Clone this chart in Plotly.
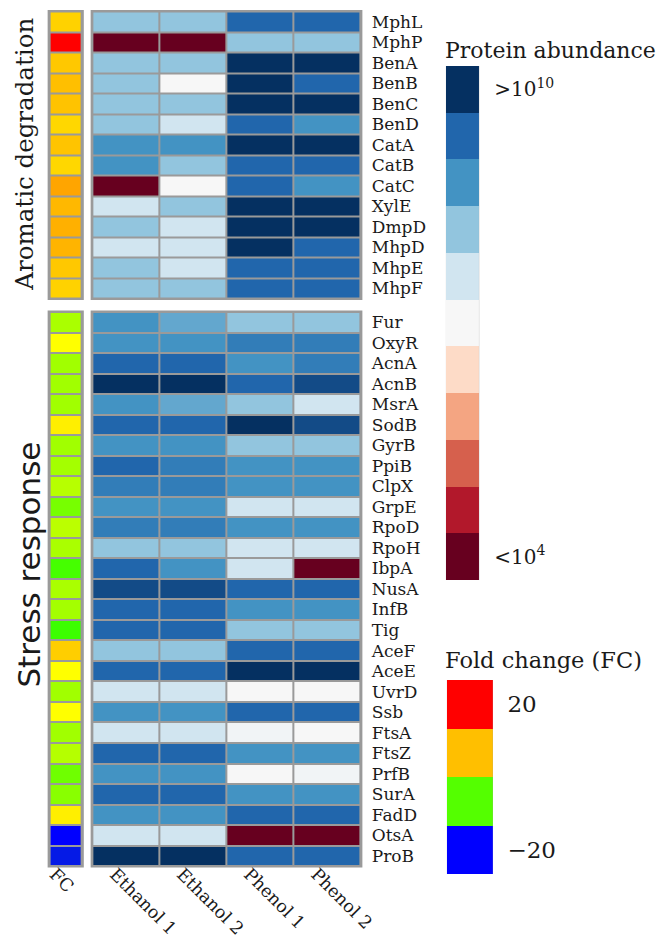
import plotly.graph_objects as go

W, H = 666, 949

# ---------------- data ----------------
genes_top = ["MphL", "MphP", "BenA", "BenB", "BenC", "BenD", "CatA", "CatB",
             "CatC", "XylE", "DmpD", "MhpD", "MhpE", "MhpF"]
genes_bottom = ["Fur", "OxyR", "AcnA", "AcnB", "MsrA", "SodB", "GyrB", "PpiB",
                "ClpX", "GrpE", "RpoD", "RpoH", "IbpA", "NusA", "InfB", "Tig",
                "AceF", "AceE", "UvrD", "Ssb", "FtsA", "FtsZ", "PrfB", "SurA",
                "FadD", "OtsA", "ProB"]
conditions = ["Ethanol 1", "Ethanol 2", "Phenol 1", "Phenol 2"]

# fold change (FC)
fc_top = [11.3, 20.0, 12.0, 13.0, 12.6, 10.9, 12.5, 10.9, 16.0, 13.8, 14.7,
          14.3, 12.0, 11.3]
fc_bottom = [4.0, 8.0, 3.7, 3.7, 3.7, 9.2, 3.7, 3.8, 4.6, 2.3, 4.8, 4.0, 0.6,
             4.0, 3.8, 0.3, 11.6, 8.0, 3.7, 8.0, 3.7, 4.5, 2.0, 2.9, 9.2,
             -20.0, -18.0]

# protein abundance (log10)
eth1_top = [8.2, 4.0, 8.2, 8.2, 8.2, 8.2, 8.8, 8.8, 4.0, 7.6, 8.2, 7.6, 8.2, 8.2]
eth2_top = [8.2, 4.0, 8.2, 7.0, 8.2, 7.6, 8.8, 8.2, 7.0, 8.2, 7.6, 7.6, 7.6, 8.2]
phe1_top = [9.4, 8.2, 10.0, 10.0, 10.0, 9.4, 10.0, 9.4, 9.4, 10.0, 10.0, 10.0, 9.4, 9.4]
phe2_top = [9.4, 8.2, 10.0, 9.4, 10.0, 8.8, 10.0, 9.4, 8.8, 10.0, 10.0, 9.4, 9.4, 9.4]

eth1_bottom = [8.8, 8.8, 9.4, 10.0, 8.8, 9.4, 8.8, 9.4, 9.1, 8.8, 9.1, 8.2, 9.4,
               9.7, 9.4, 9.4, 8.2, 9.4, 7.6, 8.8, 7.6, 9.4, 8.8, 9.4, 8.8, 7.6, 10.0]
eth2_bottom = [8.56, 8.8, 9.4, 10.0, 8.56, 9.4, 8.8, 9.1, 9.1, 8.8, 9.1, 8.2, 8.8,
               9.7, 9.4, 9.4, 8.2, 9.4, 7.6, 8.8, 7.6, 9.4, 8.8, 9.4, 8.8, 7.6, 10.0]
phe1_bottom = [8.2, 9.1, 8.8, 9.4, 8.2, 10.0, 8.2, 8.8, 8.8, 7.6, 8.8, 7.6, 7.6,
               9.4, 8.8, 8.2, 9.4, 10.0, 7.0, 9.4, 7.1, 8.8, 7.0, 8.8, 9.4, 4.0, 9.4]
phe2_bottom = [8.2, 9.1, 9.1, 9.7, 7.6, 9.7, 8.2, 8.8, 8.8, 7.6, 8.8, 7.6, 4.0,
               9.4, 8.8, 8.2, 9.4, 10.0, 7.0, 9.4, 7.0, 8.8, 7.1, 8.8, 9.4, 4.0, 9.4]

# legends
abund_legend_values = [10.0, 9.4, 8.8, 8.2, 7.6, 7.0, 6.4, 5.8, 5.2, 4.6, 4.0]
abund_legend_labels = [">10<sup>10</sup>", "<10<sup>4</sup>"]
fc_legend_values = [20.0, 13.0, 1.1, -20.0]
fc_legend_labels = ["20", "\u221220"]

# ---------------- styles ----------------
abund_scale = [[0.0, "#67001f"], [0.1, "#b2182b"], [0.2, "#d6604d"], [0.3, "#f4a582"],
               [0.4, "#fddbc7"], [0.5, "#f7f7f7"], [0.6, "#d1e5f0"], [0.7, "#92c5de"],
               [0.8, "#4393c3"], [0.9, "#2166ac"], [1.0, "#053061"]]
fc_scale = [[0.0, "#0000ff"], [0.5, "#33ff00"], [0.6, "#aaff00"], [0.7, "#ffff00"],
            [0.8, "#ffc800"], [0.9, "#ffa500"], [1.0, "#ff0000"]]
FONT = "DejaVu Serif"
SANS = "DejaVu Sans"
TXT = "#1a1a1a"
GRID = "#9a9a9a"


def px_x(a, b):
    return [a / W, b / W]


def px_y(top, bottom):
    return [1 - bottom / H, 1 - top / H]


def rows(*cols):
    return [list(r) for r in zip(*cols)]


fig = go.Figure()

# FC top
fig.add_trace(go.Heatmap(z=[[v] for v in fc_top], x=[0], y=list(range(len(fc_top))),
                         colorscale=fc_scale, zmin=-20, zmax=20, showscale=False,
                         xgap=2, ygap=2, xaxis="x", yaxis="y", hoverinfo="skip"))
# main top
fig.add_trace(go.Heatmap(z=rows(eth1_top, eth2_top, phe1_top, phe2_top),
                         x=list(range(4)), y=list(range(len(genes_top))),
                         colorscale=abund_scale, zmin=4, zmax=10, showscale=False,
                         xgap=2, ygap=2, xaxis="x2", yaxis="y2", hoverinfo="skip"))
# FC bottom
fig.add_trace(go.Heatmap(z=[[v] for v in fc_bottom], x=[0], y=list(range(len(fc_bottom))),
                         colorscale=fc_scale, zmin=-20, zmax=20, showscale=False,
                         xgap=2, ygap=2, xaxis="x3", yaxis="y3", hoverinfo="skip"))
# main bottom
fig.add_trace(go.Heatmap(z=rows(eth1_bottom, eth2_bottom, phe1_bottom, phe2_bottom),
                         x=list(range(4)), y=list(range(len(genes_bottom))),
                         colorscale=abund_scale, zmin=4, zmax=10, showscale=False,
                         xgap=2, ygap=2, xaxis="x4", yaxis="y4", hoverinfo="skip"))
# legend: protein abundance
fig.add_trace(go.Heatmap(z=[[v] for v in abund_legend_values], x=[0],
                         y=list(range(len(abund_legend_values))),
                         colorscale=abund_scale, zmin=4, zmax=10, showscale=False,
                         xaxis="x5", yaxis="y5", hoverinfo="skip"))
# legend: fold change
fig.add_trace(go.Heatmap(z=[[v] for v in fc_legend_values], x=[0],
                         y=list(range(len(fc_legend_values))),
                         colorscale=fc_scale, zmin=-20, zmax=20, showscale=False,
                         xaxis="x6", yaxis="y6", hoverinfo="skip"))

e = 0.025
ey = 0.07
blank = dict(showgrid=False, zeroline=False, showline=False, ticks="", showticklabels=False,
             fixedrange=True)

top_y = px_y(2, 292)
bot_y = px_y(302.5, 859.5)
fc_x = px_x(38.5, 75.5)
main_x = px_x(82.5, 360.5)

xlab_font = dict(family=FONT, size=17.5, color=TXT)
ylab_font = dict(family=FONT, size=17, color=TXT)

fig.update_layout(
    width=W, height=H, margin=dict(l=0, r=0, t=0, b=0),
    paper_bgcolor="white", plot_bgcolor=GRID, showlegend=False,
    xaxis=dict(blank, domain=fc_x, anchor="y", range=[-0.5 - 0.06, 0.5 + 0.06]),
    yaxis=dict(blank, domain=top_y, anchor="x",
               range=[len(genes_top) - 0.5 + ey, -0.5 - ey]),
    xaxis2=dict(blank, domain=main_x, anchor="y2", range=[-0.5 - e, 3.5 + e]),
    yaxis2=dict(blank, domain=top_y, anchor="x2", side="right",
                range=[len(genes_top) - 0.5 + ey, -0.5 - ey],
                showticklabels=True, tickvals=list(range(len(genes_top))),
                ticktext=genes_top, ticks="outside", ticklen=5,
                tickcolor="rgba(0,0,0,0)", tickfont=ylab_font),
    xaxis3=dict(blank, domain=fc_x, anchor="y3", range=[-0.5 - 0.06, 0.5 + 0.06],
                showticklabels=True, tickvals=[0], ticktext=["FC"], tickangle=45,
                ticklabelstandoff=-8, ticklabelshift=-11,
                tickfont=xlab_font),
    yaxis3=dict(blank, domain=bot_y, anchor="x3",
                range=[len(genes_bottom) - 0.5 + ey, -0.5 - ey]),
    xaxis4=dict(blank, domain=main_x, anchor="y4", range=[-0.5 - e, 3.5 + e],
                showticklabels=True, tickvals=list(range(4)), ticktext=conditions,
                tickangle=45, ticklabelstandoff=-8, ticklabelshift=-11,
                tickfont=xlab_font),
    yaxis4=dict(blank, domain=bot_y, anchor="x4", side="right",
                range=[len(genes_bottom) - 0.5 + ey, -0.5 - ey],
                showticklabels=True, tickvals=list(range(len(genes_bottom))),
                ticktext=genes_bottom, ticks="outside", ticklen=5,
                tickcolor="rgba(0,0,0,0)", tickfont=ylab_font),
    xaxis5=dict(blank, domain=px_x(446, 480), anchor="y5", range=[-0.5, 0.5]),
    yaxis5=dict(blank, domain=px_y(58, 572), anchor="x5", side="right",
                range=[len(abund_legend_values) - 0.5, -0.5],
                showticklabels=True, tickvals=[0, len(abund_legend_values) - 1],
                ticktext=abund_legend_labels, ticks="outside", ticklen=10,
                tickcolor="rgba(0,0,0,0)",
                tickfont=dict(family=FONT, size=20, color=TXT)),
    xaxis6=dict(blank, domain=px_x(447, 494), anchor="y6", range=[-0.5, 0.5]),
    yaxis6=dict(blank, domain=px_y(672, 866), anchor="x6", side="right",
                range=[len(fc_legend_values) - 0.5, -0.5],
                showticklabels=True, tickvals=[0, len(fc_legend_values) - 1],
                ticktext=fc_legend_labels, ticks="outside", ticklen=9,
                tickcolor="rgba(0,0,0,0)",
                tickfont=dict(family=FONT, size=23, color=TXT)),
    annotations=[
        dict(text="Aromatic degradation", x=14 / W, y=1 - 146 / H, xref="paper",
             yref="paper", textangle=-90, showarrow=False, xanchor="center",
             yanchor="middle", font=dict(family=FONT, size=24.5, color=TXT)),
        dict(text="Stress response", x=19 / W, y=1 - 557 / H, xref="paper",
             yref="paper", textangle=-90, showarrow=False, xanchor="center",
             yanchor="middle", font=dict(family=SANS, size=31, color=TXT)),
        dict(text="Protein abundance", x=443 / W, y=1 - 42 / H, xref="paper",
             yref="paper", showarrow=False, xanchor="left", yanchor="middle",
             font=dict(family=FONT, size=22, color=TXT)),
        dict(text="Fold change (FC)", x=443 / W, y=1 - 652 / H, xref="paper",
             yref="paper", showarrow=False, xanchor="left", yanchor="middle",
             font=dict(family=FONT, size=22.5, color=TXT)),
    ],
)

fig.write_html("out.html")
